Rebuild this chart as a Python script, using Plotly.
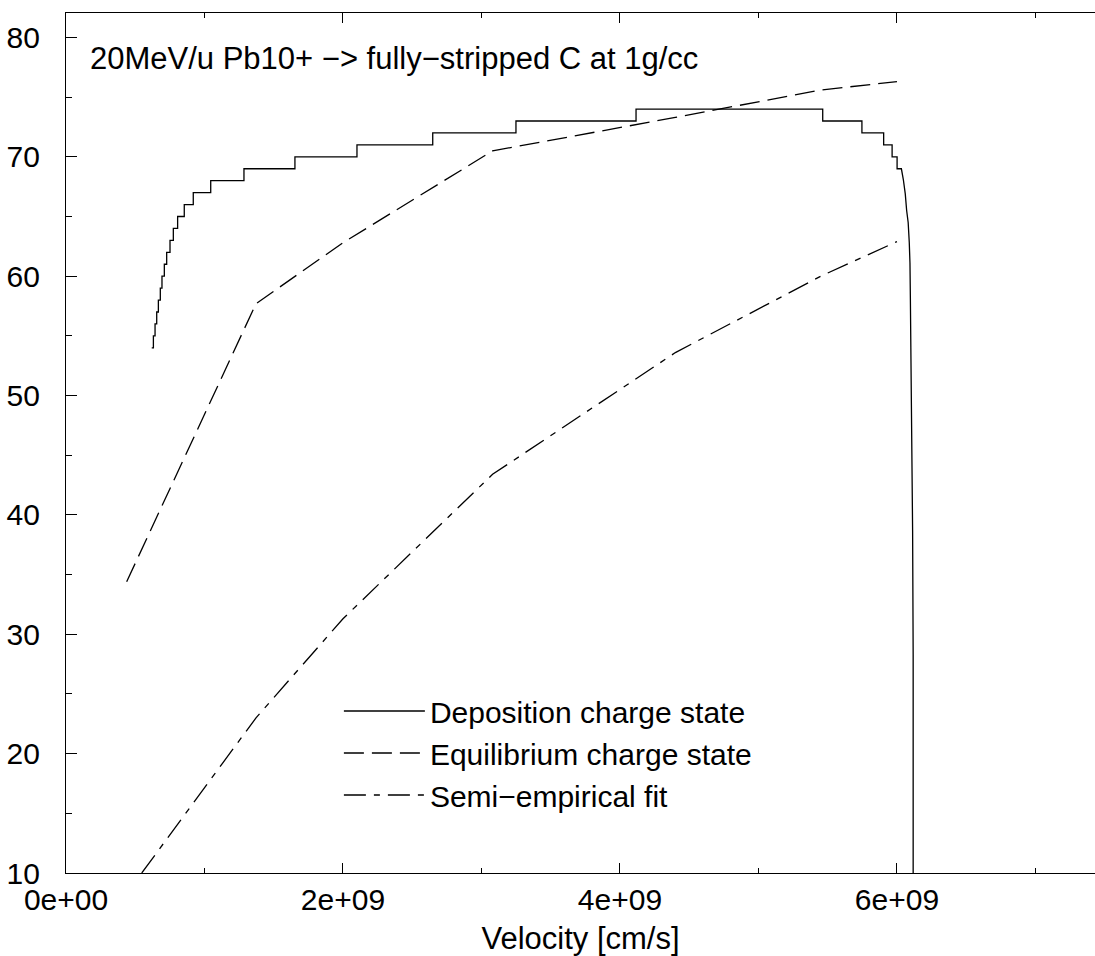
import plotly.graph_objects as go

# ---------------- data ----------------
# Deposition charge state: step function (transition velocity, new level)
dep_step_v = [0.619e9, 0.631e9, 0.643e9, 0.655e9, 0.667e9, 0.681e9, 0.693e9, 0.710e9,
              0.727e9, 0.751e9, 0.775e9, 0.806e9, 0.854e9, 0.919e9, 1.045e9, 1.285e9,
              1.653e9, 2.101e9, 2.648e9, 3.249e9, 4.116e9, 5.464e9, 5.747e9, 5.904e9,
              5.965e9, 6.001e9]
dep_step_q = [54, 55, 56, 57, 58, 59, 60, 61, 62, 63, 64, 65, 66, 67, 68, 69, 70,
              71, 72, 73, 74, 73, 72, 71, 70, 69]
# Deposition tail (smooth fall-off)
dep_tail_v = [6.032e9, 6.046e9, 6.060e9, 6.070e9, 6.081e9, 6.089e9, 6.094e9, 6.097e9,
              6.106e9, 6.113e9, 6.117e9, 6.117e9]
dep_tail_q = [69, 68.1, 66.9, 65.5, 64.5, 62.8, 61.1, 58.0, 48.5, 38.7, 28.3, 10.0]

# Equilibrium charge state
eq_v = [0.438e9, 1.372e9, 2.0e9, 3.08e9, 4.4e9, 5.45e9, 6.0e9]
eq_q = [34.4, 57.7, 62.8, 70.5, 73.3, 75.6, 76.3]

# Semi-empirical fit
se_v = [0.547e9, 1.372e9, 2.0e9, 3.08e9, 4.4e9, 5.45e9, 6.0e9]
se_q = [10.0, 23.0, 31.3, 43.4, 53.6, 60.0, 62.9]

x_tickvals = [0, 2e9, 4e9, 6e9]
x_ticktext = ["0e+00", "2e+09", "4e+09", "6e+09"]
y_tickvals = [10, 20, 30, 40, 50, 60, 70, 80]

title_text = "20MeV/u Pb10+ \u2212> fully\u2212stripped C at 1g/cc"
names = ["Deposition charge state", "Equilibrium charge state", "Semi\u2212empirical fit"]

# build step path for deposition curve
dep_x, dep_y = [], []
for i, (v, q) in enumerate(zip(dep_step_v, dep_step_q)):
    dep_x.append(v)
    dep_y.append(q)
    nxt = dep_step_v[i + 1] if i + 1 < len(dep_step_v) else dep_tail_v[0]
    dep_x.append(nxt)
    dep_y.append(q)
dep_x += dep_tail_v
dep_y += dep_tail_q

FONT = "Liberation Sans, Arial, Helvetica, sans-serif"
LW = 1.3

fig = go.Figure()
fig.add_trace(go.Scatter(x=dep_x, y=dep_y, mode="lines", name=names[0],
                         line=dict(color="black", width=LW)))
fig.add_trace(go.Scatter(x=eq_v, y=eq_q, mode="lines", name=names[1],
                         line=dict(color="black", width=LW, dash="20px,8px")))
fig.add_trace(go.Scatter(x=se_v, y=se_q, mode="lines", name=names[2],
                         line=dict(color="black", width=LW, dash="22px,8px,6px,8px")))

fig.add_annotation(x=0.16e9, y=78.2, xref="x", yref="y", text=title_text,
                   showarrow=False, xanchor="left", yanchor="middle",
                   font=dict(family=FONT, size=31, color="black"))

fig.update_layout(
    width=1095, height=956,
    margin=dict(l=66, r=0, t=13, b=83),
    paper_bgcolor="white", plot_bgcolor="white",
    font=dict(family=FONT, size=30, color="black"),
    showlegend=True,
    legend=dict(x=0.2652, y=(873 - 685) / 860, xanchor="left", yanchor="top",
                bgcolor="rgba(0,0,0,0)", borderwidth=0,
                font=dict(family=FONT, size=30, color="black"),
                tracegroupgap=0, itemwidth=81),
)
fig.update_xaxes(
    range=[0, 7.43e9], showgrid=False, zeroline=False,
    showline=True, linecolor="black", linewidth=1.2, mirror="ticks",
    ticks="inside", ticklen=10, tickwidth=1.2, tickcolor="black",
    tickvals=x_tickvals, ticktext=x_ticktext,
    tickfont=dict(family=FONT, size=30),
    minor=dict(ticks="inside", ticklen=5, tickwidth=1.2, tickcolor="black",
               dtick=1e9, tick0=0, showgrid=False),
    title=dict(text="Velocity [cm/s]", font=dict(family=FONT, size=31), standoff=12),
)
fig.update_yaxes(
    range=[10, 82.05], showgrid=False, zeroline=False,
    showline=True, linecolor="black", linewidth=1.2, mirror=False,
    ticks="inside", ticklen=11, tickwidth=1.2, tickcolor="black",
    tickvals=y_tickvals, ticklabelstandoff=19,
    tickfont=dict(family=FONT, size=30),
    minor=dict(ticks="inside", ticklen=6, tickwidth=1.2, tickcolor="black",
               dtick=5, tick0=0, showgrid=False),
)

fig.write_html("out.html")
